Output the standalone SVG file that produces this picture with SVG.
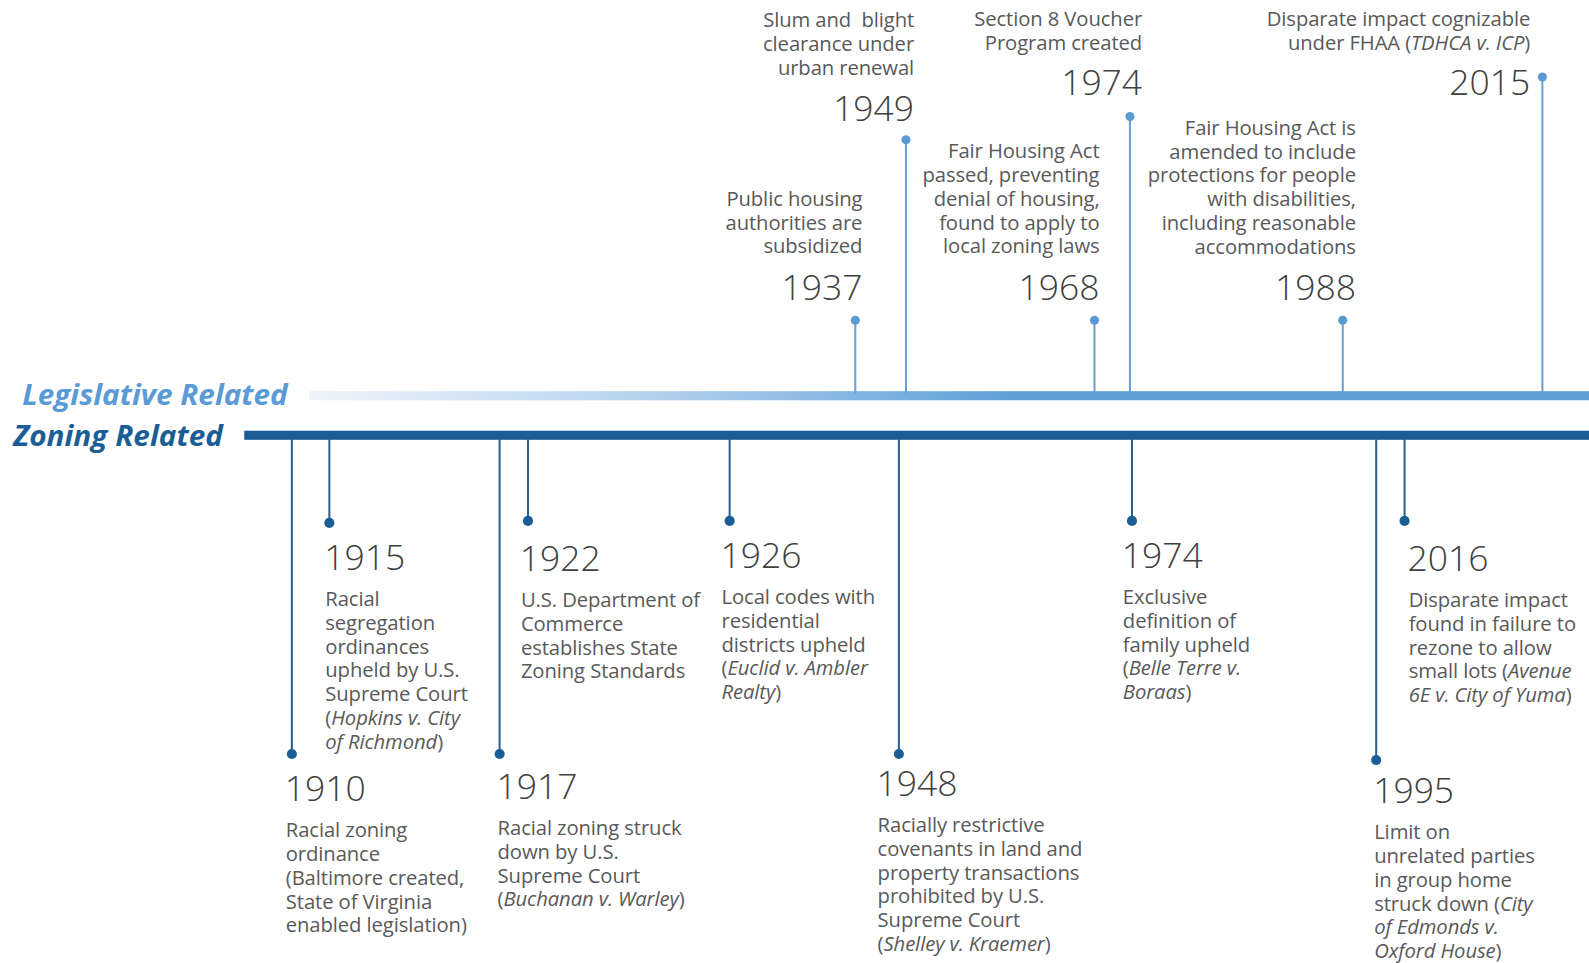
<svg xmlns="http://www.w3.org/2000/svg" width="1589" height="963" viewBox="0 0 1589 963">
<defs>
<linearGradient id="legGrad" gradientUnits="userSpaceOnUse" x1="305" y1="0" x2="1000" y2="0">
<stop offset="0" stop-color="#eef4fb"/>
<stop offset="0.45" stop-color="#b9d4ee"/>
<stop offset="1" stop-color="#5e9fd8"/>
</linearGradient>
<style>
.t{font-family:"Open Sans","Liberation Sans",sans-serif;font-size:20px;letter-spacing:-0.1px;fill:#595959}
.y{font-family:"Open Sans","Liberation Sans",sans-serif;font-size:35px;font-weight:300;fill:#404040}
.r{text-anchor:end}
.i{font-style:italic}
.lt{stroke:#6a9fd4;stroke-width:2;fill:none}
.ld{fill:#5b9bd5}
.zt{stroke:#2b5f8e;stroke-width:2;fill:none}
.zd{fill:#1b5e96}
.hd{font-family:"Open Sans","Liberation Sans",sans-serif;font-size:28px;font-weight:700;font-style:italic}
</style>
</defs>
<rect width="1589" height="963" fill="#ffffff"/>
<g transform="scale(1.0134)">

<g id="axes">
<rect x="305" y="386" width="1284" height="9" fill="url(#legGrad)"/>
<rect x="241" y="425" width="1348" height="9" fill="#1b5e96"/>
<text class="hd" x="22" y="400" fill="#5b9bd5" textLength="262" lengthAdjust="spacingAndGlyphs">Legislative Related</text>
<text class="hd" x="13" y="440" fill="#1b5e96" textLength="207" lengthAdjust="spacingAndGlyphs">Zoning Related</text>
</g>

<g id="connectors">
<line class="lt" x1="844" y1="316" x2="844" y2="388"/>
<line class="lt" x1="894" y1="138" x2="894" y2="388"/>
<line class="lt" x1="1080" y1="316" x2="1080" y2="388"/>
<line class="lt" x1="1115" y1="115" x2="1115" y2="388"/>
<line class="lt" x1="1325" y1="316" x2="1325" y2="388"/>
<line class="lt" x1="1522" y1="76" x2="1522" y2="388"/>
<line class="zt" x1="288" y1="432" x2="288" y2="744"/>
<line class="zt" x1="325" y1="432" x2="325" y2="516"/>
<line class="zt" x1="493" y1="432" x2="493" y2="744"/>
<line class="zt" x1="521" y1="432" x2="521" y2="514"/>
<line class="zt" x1="720" y1="432" x2="720" y2="514"/>
<line class="zt" x1="887" y1="432" x2="887" y2="744"/>
<line class="zt" x1="1117" y1="432" x2="1117" y2="514"/>
<line class="zt" x1="1358" y1="432" x2="1358" y2="750"/>
<line class="zt" x1="1386" y1="432" x2="1386" y2="514"/>
</g>

<g id="n1937">
<circle class="ld" cx="844" cy="316" r="4.5"/>
<text class="y r" x="851" y="296">1937</text>
<text class="t r" x="851" y="203"><tspan x="851">Public housing</tspan><tspan x="851" dy="23.5">authorities are</tspan><tspan x="851" dy="23.5">subsidized</tspan></text>
</g>

<g id="n1949">
<circle class="ld" cx="894" cy="138" r="4.5"/>
<text class="y r" x="902" y="119">1949</text>
<text class="t r" x="902" y="27"><tspan x="902" style="white-space:pre">Slum and  blight</tspan><tspan x="902" dy="23.5">clearance under</tspan><tspan x="902" dy="23.5">urban renewal</tspan></text>
</g>

<g id="n1968">
<circle class="ld" cx="1080" cy="316" r="4.5"/>
<text class="y r" x="1085" y="296">1968</text>
<text class="t r" x="1085" y="156"><tspan x="1085">Fair Housing Act</tspan><tspan x="1085" dy="23.5">passed, preventing</tspan><tspan x="1085" dy="23.5">denial of housing,</tspan><tspan x="1085" dy="23.5">found to apply to</tspan><tspan x="1085" dy="23.5">local zoning laws</tspan></text>
</g>

<g id="n1974a">
<circle class="ld" cx="1115" cy="115" r="4.5"/>
<text class="y r" x="1127" y="94">1974</text>
<text class="t r" x="1127" y="26"><tspan x="1127">Section 8 Voucher</tspan><tspan x="1127" dy="23.5">Program created</tspan></text>
</g>

<g id="n1988">
<circle class="ld" cx="1325" cy="316" r="4.5"/>
<text class="y r" x="1338" y="296">1988</text>
<text class="t r" x="1338" y="133"><tspan x="1338">Fair Housing Act is</tspan><tspan x="1338" dy="23.5">amended to include</tspan><tspan x="1338" dy="23.5">protections for people</tspan><tspan x="1338" dy="23.5">with disabilities,</tspan><tspan x="1338" dy="23.5">including reasonable</tspan><tspan x="1338" dy="23.5">accommodations</tspan></text>
</g>

<g id="n2015">
<circle class="ld" cx="1522" cy="76" r="4.5"/>
<text class="y r" x="1510" y="94">2015</text>
<text class="t r" x="1510" y="26"><tspan x="1510">Disparate impact cognizable</tspan><tspan x="1510" dy="23.5">under FHAA (<tspan class="i">TDHCA v. ICP</tspan>)</tspan></text>
</g>

<g id="n1910">
<circle class="zd" cx="288" cy="744" r="5"/>
<text class="y" x="281" y="790">1910</text>
<text class="t" x="282" y="826"><tspan x="282">Racial zoning</tspan><tspan x="282" dy="23.5">ordinance</tspan><tspan x="282" dy="23.5">(Baltimore created,</tspan><tspan x="282" dy="23.5">State of Virginia</tspan><tspan x="282" dy="23.5">enabled legislation)</tspan></text>
</g>

<g id="n1915">
<circle class="zd" cx="325" cy="516" r="5"/>
<text class="y" x="320" y="562">1915</text>
<text class="t" x="321" y="598"><tspan x="321">Racial</tspan><tspan x="321" dy="23.5">segregation</tspan><tspan x="321" dy="23.5">ordinances</tspan><tspan x="321" dy="23.5">upheld by U.S.</tspan><tspan x="321" dy="23.5">Supreme Court</tspan><tspan x="321" dy="23.5">(<tspan class="i">Hopkins v. City</tspan></tspan><tspan x="321" dy="23.5"><tspan class="i">of Richmond</tspan>)</tspan></text>
</g>

<g id="n1917">
<circle class="zd" cx="493" cy="744" r="5"/>
<text class="y" x="490" y="788">1917</text>
<text class="t" x="491" y="824"><tspan x="491">Racial zoning struck</tspan><tspan x="491" dy="23.5">down by U.S.</tspan><tspan x="491" dy="23.5">Supreme Court</tspan><tspan x="491" dy="23.5">(<tspan class="i">Buchanan v. Warley</tspan>)</tspan></text>
</g>

<g id="n1922">
<circle class="zd" cx="521" cy="514" r="5"/>
<text class="y" x="513" y="563">1922</text>
<text class="t" x="514" y="599"><tspan x="514">U.S. Department of</tspan><tspan x="514" dy="23.5">Commerce</tspan><tspan x="514" dy="23.5">establishes State</tspan><tspan x="514" dy="23.5">Zoning Standards</tspan></text>
</g>

<g id="n1926">
<circle class="zd" cx="720" cy="514" r="5"/>
<text class="y" x="711" y="560">1926</text>
<text class="t" x="712" y="596"><tspan x="712">Local codes with</tspan><tspan x="712" dy="23.5">residential</tspan><tspan x="712" dy="23.5">districts upheld</tspan><tspan x="712" dy="23.5">(<tspan class="i">Euclid v. Ambler</tspan></tspan><tspan x="712" dy="23.5"><tspan class="i">Realty</tspan>)</tspan></text>
</g>

<g id="n1948">
<circle class="zd" cx="887" cy="744" r="5"/>
<text class="y" x="865" y="785">1948</text>
<text class="t" x="866" y="821"><tspan x="866">Racially restrictive</tspan><tspan x="866" dy="23.5">covenants in land and</tspan><tspan x="866" dy="23.5">property transactions</tspan><tspan x="866" dy="23.5">prohibited by U.S.</tspan><tspan x="866" dy="23.5">Supreme Court</tspan><tspan x="866" dy="23.5">(<tspan class="i">Shelley v. Kraemer</tspan>)</tspan></text>
</g>

<g id="n1974b">
<circle class="zd" cx="1117" cy="514" r="5"/>
<text class="y" x="1107" y="560">1974</text>
<text class="t" x="1108" y="596"><tspan x="1108">Exclusive</tspan><tspan x="1108" dy="23.5">definition of</tspan><tspan x="1108" dy="23.5">family upheld</tspan><tspan x="1108" dy="23.5">(<tspan class="i">Belle Terre v.</tspan></tspan><tspan x="1108" dy="23.5"><tspan class="i">Boraas</tspan>)</tspan></text>
</g>

<g id="n1995">
<circle class="zd" cx="1358" cy="750" r="5"/>
<text class="y" x="1355" y="792">1995</text>
<text class="t" x="1356" y="828"><tspan x="1356">Limit on</tspan><tspan x="1356" dy="23.5">unrelated parties</tspan><tspan x="1356" dy="23.5">in group home</tspan><tspan x="1356" dy="23.5">struck down (<tspan class="i">City</tspan></tspan><tspan x="1356" dy="23.5"><tspan class="i">of Edmonds v.</tspan></tspan><tspan x="1356" dy="23.5"><tspan class="i">Oxford House</tspan>)</tspan></text>
</g>

<g id="n2016">
<circle class="zd" cx="1386" cy="514" r="5"/>
<text class="y" x="1389" y="563">2016</text>
<text class="t" x="1390" y="599"><tspan x="1390">Disparate impact</tspan><tspan x="1390" dy="23.5">found in failure to</tspan><tspan x="1390" dy="23.5">rezone to allow</tspan><tspan x="1390" dy="23.5">small lots (<tspan class="i">Avenue</tspan></tspan><tspan x="1390" dy="23.5"><tspan class="i">6E v. City of Yuma</tspan>)</tspan></text>
</g>
</g>
</svg>
